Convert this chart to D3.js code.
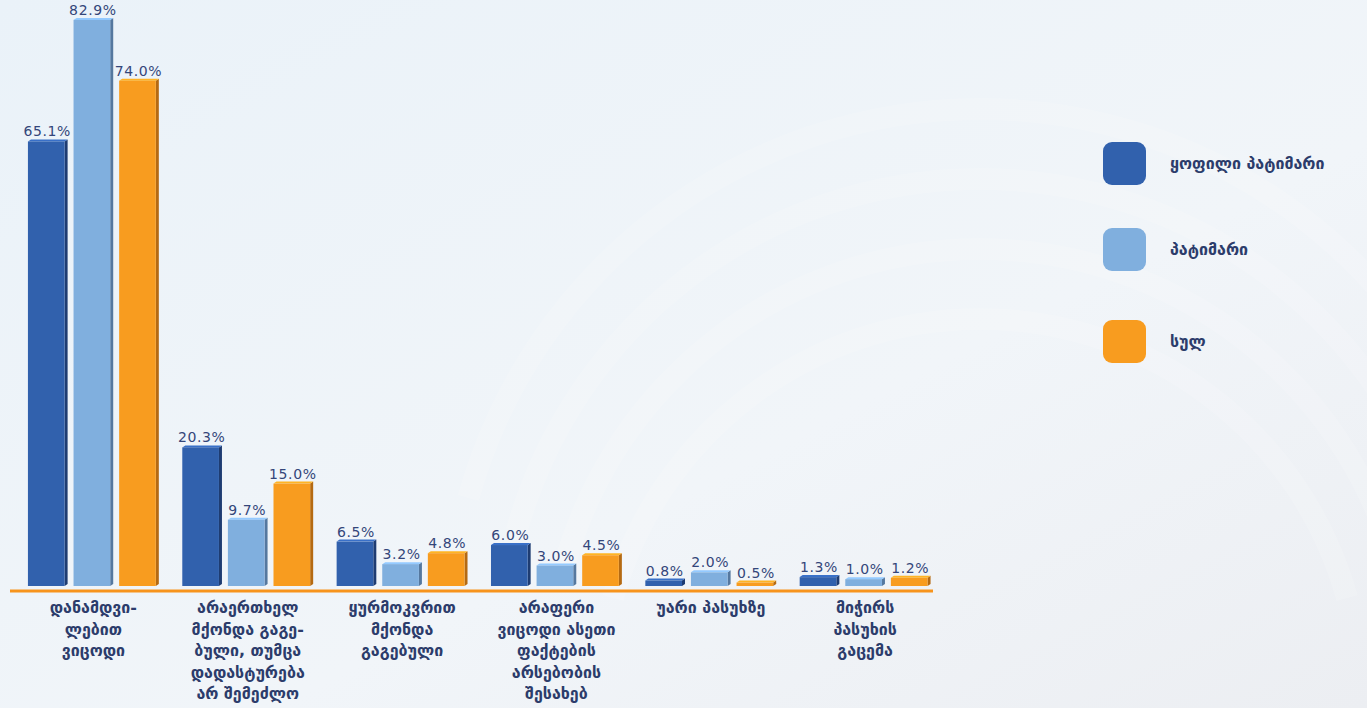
<!DOCTYPE html>
<html>
<head>
<meta charset="utf-8">
<script src="https://cdn.jsdelivr.net/npm/d3@7"></script>
<style>
  body { margin: 0; overflow: hidden; background: #eef3f8; }
  svg { display: block; }
  text { font-family: "DejaVu Sans", sans-serif; }
</style>
</head>
<body>
<div id="container"></div>
<script>
// data
var categories = [
    ['დანამდვი-', 'ლებით', 'ვიცოდი'],
    ['არაერთხელ', 'მქონდა გაგე-', 'ბული, თუმცა', 'დადასტურება', 'არ შემეძლო'],
    ['ყურმოკვრით', 'მქონდა', 'გაგებული'],
    ['არაფერი', 'ვიცოდი ასეთი', 'ფაქტების', 'არსებობის', 'შესახებ'],
    ['უარი პასუხზე'],
    ['მიჭირს', 'პასუხის', 'გაცემა']
];
var seriesNames = ['ყოფილი პატიმარი', 'პატიმარი', 'სულ'];
var formerPrisoner = [65.1, 20.3, 6.5, 6.0, 0.8, 1.3];
var prisoner = [82.9, 9.7, 3.2, 3.0, 2.0, 1.0];
var total = [74.0, 15.0, 4.8, 4.5, 0.5, 1.2];

var colors = ['#3161ad', '#80afde', '#f89c1f'];
var sideColors = ['#1e3c72', '#55789f', '#b56a12'];

var w = 1367, h = 708;
var svg = d3.select('#container').append('svg')
    .attr('width', w).attr('height', h);

// background
var defs = svg.append('defs');
var bg = defs.append('linearGradient').attr('id', 'bg')
    .attr('x1', 0).attr('y1', 0).attr('x2', 1).attr('y2', 1);
bg.append('stop').attr('offset', '0%').attr('stop-color', '#eaf2f9');
bg.append('stop').attr('offset', '60%').attr('stop-color', '#f1f5f9');
bg.append('stop').attr('offset', '100%').attr('stop-color', '#eceef2');
svg.append('rect').attr('width', w).attr('height', h).attr('fill', 'url(#bg)');

// faint swooshes
[520, 470, 420, 370].forEach(function(r, i) {
    svg.append('path')
       .attr('d', d3.arc()({innerRadius: r, outerRadius: r + 22, startAngle: -1.3, endAngle: 1.3}))
       .attr('transform', 'translate(980,' + (640 + i * 20) + ')')
       .attr('fill', '#ffffff')
       .attr('opacity', 0.14);
});

var idx = d3.range(categories.length);
var x0 = d3.scaleBand().domain(idx).range([12.5, 946]).paddingInner(0.152).paddingOuter(0.1);
var x1 = d3.scaleBand().domain(d3.range(3)).range([0, x0.bandwidth()]).paddingInner(0.13);
var y = d3.scaleLinear().domain([0, 85]).range([586, 5.6]);

var rows = idx.map(function(i) {
    return [formerPrisoner[i], prisoner[i], total[i]];
});

var groups = svg.selectAll('g.grp')
    .data(rows)
    .enter().append('g')
    .attr('class', 'grp')
    .attr('transform', function(d, i) { return 'translate(' + x0(i) + ',0)'; });

var bw = x1.bandwidth() - 3;

var bars = groups.selectAll('g.bar')
    .data(function(d) { return d; })
    .enter().append('g')
    .attr('class', 'bar');

// side face
bars.append('path')
    .attr('d', function(d, j) {
        var xr = x1(j) + bw, yt = y(d), yb = y(0);
        return 'M' + xr + ',' + yt + 'L' + (xr + 3) + ',' + (yt - 2) + 'L' + (xr + 3) + ',' + (yb - 2) + 'L' + xr + ',' + yb + 'Z';
    })
    .attr('fill', function(d, j) { return sideColors[j]; });

// top face
bars.append('path')
    .attr('d', function(d, j) {
        var xl = x1(j), yt = y(d);
        return 'M' + xl + ',' + yt + 'L' + (xl + 3) + ',' + (yt - 2) + 'L' + (xl + bw + 3) + ',' + (yt - 2) + 'L' + (xl + bw) + ',' + yt + 'Z';
    })
    .attr('fill', function(d, j) { return d3.color(colors[j]).brighter(0.4); });

// front face
bars.append('rect')
    .attr('x', function(d, j) { return x1(j); })
    .attr('y', function(d) { return y(d); })
    .attr('width', bw)
    .attr('height', function(d) { return y(0) - y(d); })
    .attr('fill', function(d, j) { return colors[j]; });

// value labels
bars.append('text')
    .attr('x', function(d, j) { return x1(j) + bw / 2 + 1; })
    .attr('y', function(d) { return y(d) - 5; })
    .attr('text-anchor', 'middle')
    .attr('font-size', 14)
    .attr('letter-spacing', 0.6)
    .attr('fill', '#34467a')
    .text(function(d) { return d.toFixed(1) + '%'; });

// axis line
svg.append('line')
    .attr('x1', 10).attr('x2', 933)
    .attr('y1', 591).attr('y2', 591)
    .attr('stroke', '#f7941d').attr('stroke-width', 3);

// category labels
svg.selectAll('text.cat')
    .data(categories)
    .enter().append('text')
    .attr('class', 'cat')
    .attr('text-anchor', 'middle')
    .attr('font-size', 16)
    .attr('font-weight', 'bold')
    .attr('fill', '#2c3c6b')
    .each(function(lines, i) {
        var t = d3.select(this);
        lines.forEach(function(l, k) {
            t.append('tspan')
             .attr('x', x0(i) + x0.bandwidth() / 2)
             .attr('y', 613 + k * 21.5)
             .text(l);
        });
    });

// legend
var legend = svg.selectAll('g.legend')
    .data(seriesNames)
    .enter().append('g')
    .attr('class', 'legend')
    .attr('transform', function(d, i) { return 'translate(1103,' + [142, 228, 320][i] + ')'; });

legend.append('rect')
    .attr('width', 43).attr('height', 43)
    .attr('rx', 9).attr('ry', 9)
    .attr('fill', function(d, i) { return colors[i]; });

legend.append('text')
    .attr('x', 67).attr('y', 27)
    .attr('font-size', 16)
    .attr('font-weight', 'bold')
    .attr('fill', '#2c3c6b')
    .text(function(d) { return d; });
</script>
</body>
</html>
